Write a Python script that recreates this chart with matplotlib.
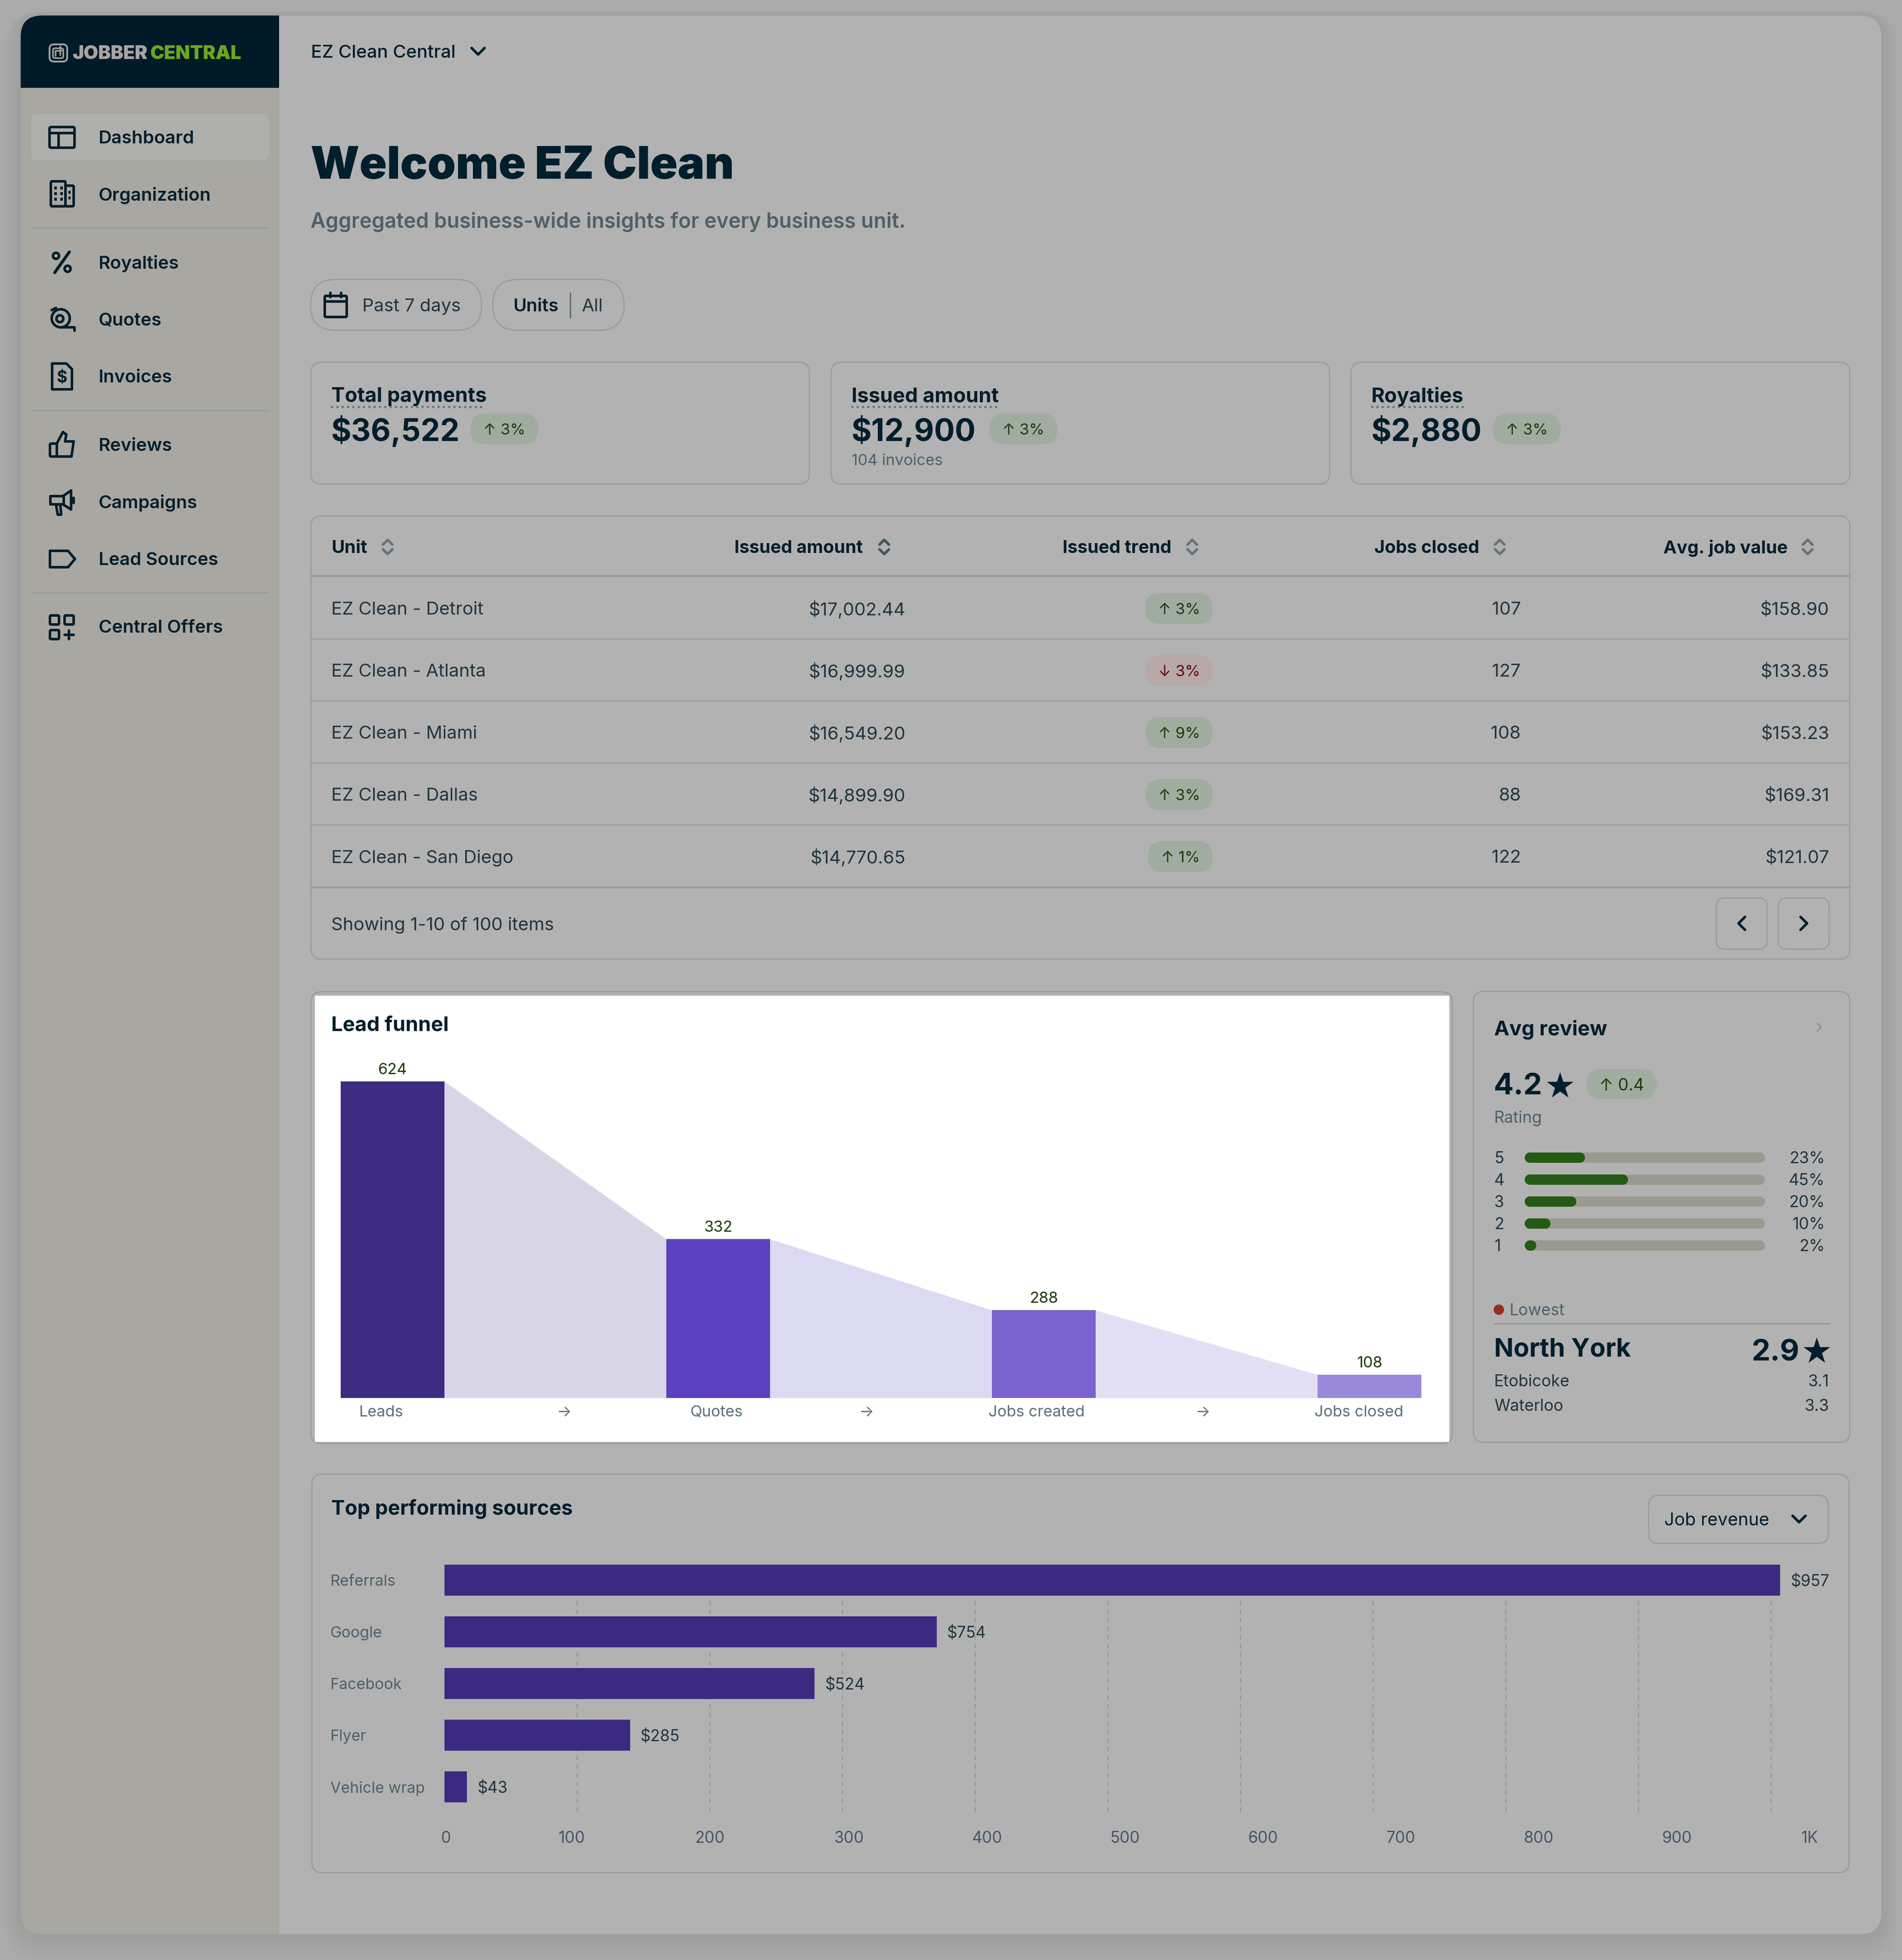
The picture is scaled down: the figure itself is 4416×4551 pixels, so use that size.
import matplotlib
matplotlib.use("Agg")
import matplotlib.pyplot as plt
from matplotlib.patches import FancyBboxPatch, Rectangle, Circle, Polygon

# ---------- data ----------
nav_items = ["Dashboard", "Organization", "Royalties", "Quotes", "Invoices",
             "Reviews", "Campaigns", "Lead Sources", "Central Offers"]
kpi_titles = ["Total payments", "Issued amount", "Royalties"]
kpi_values = ["$36,522", "$12,900", "$2,880"]
kpi_changes = ["3%", "3%", "3%"]

table_headers = ["Unit", "Issued amount", "Issued trend", "Jobs closed", "Avg. job value"]
table_units = ["EZ Clean - Detroit", "EZ Clean - Atlanta", "EZ Clean - Miami",
               "EZ Clean - Dallas", "EZ Clean - San Diego"]
table_issued = ["$17,002.44", "$16,999.99", "$16,549.20", "$14,899.90", "$14,770.65"]
table_trend = ["↑ 3%", "↓ 3%", "↑ 9%", "↑ 3%", "↑ 1%"]
table_jobs = ["107", "127", "108", "88", "122"]
table_avg = ["$158.90", "$133.85", "$153.23", "$169.31", "$121.07"]

funnel_stages = ["Leads", "Quotes", "Jobs created", "Jobs closed"]
funnel_counts = ["624", "332", "288", "108"]
funnel_heights = [624, 313, 173, 46]          # bar heights as drawn in the picture
funnel_colors = ["#3d2b82", "#5b41bf", "#7a63cf", "#9a88da"]
funnel_area_colors = ["#d8d5e6", "#dcd9f2", "#e3e0f6"]
funnel_tick_labels = ["Leads", "→", "Quotes", "→", "Jobs created", "→", "Jobs closed"]
funnel_tick_pos = [-0.035, 0.527, 0.995, 1.455, 1.978, 2.488, 2.968]

rating_levels = ["5", "4", "3", "2", "1"]
rating_labels = ["23%", "45%", "20%", "10%", "2%"]
rating_fill = [25, 43, 21.5, 10.7, 3.8]       # fill lengths as drawn

source_names = ["Referrals", "Google", "Facebook", "Flyer", "Vehicle wrap"]
source_labels = ["$957", "$754", "$524", "$285", "$43"]
source_lengths = [1007, 371, 279, 140, 17]    # bar lengths as drawn against the grid
grid_values = [100, 200, 300, 400, 500, 600, 700, 800, 900, 1000]
source_tick_labels = ["0", "100", "200", "300", "400", "500", "600", "700", "800", "900", "1K"]
source_tick_pos = [1, 96, 200, 305, 409, 513, 617, 721, 825, 929, 1029]

# ---------- style ----------
W, H = 4416, 4551
FONT = ["Inter", "DejaVu Sans"]
DARK = "#011e2c"
BODY = "#22343e"
MUTED = "#4f5f68"
BORDER = "#979da2"
PANEL = "#b2b2b2"
PILL_G, PILL_R = "#a0aca0", "#b9a8a8"
TXT_G, TXT_R = "#1c3a0c", "#5e0a0a"
PURPLE = "#3c2a82"


def css(px):
    return px * 3 * 0.72


def lw(px):
    return px * 0.72


plt.rcParams["font.family"] = FONT
fig = plt.figure(figsize=(W / 100, H / 100), dpi=100, facecolor="#ababab")
ui = fig.add_axes([0, 0, 1, 1], zorder=0)
ui.set_xlim(0, W)
ui.set_ylim(H, 0)
ui.axis("off")


def rr(x0, y0, x1, y1, r=0, fc="none", ec="none", lwd=0, z=1, alpha=None):
    p = FancyBboxPatch((x0, y0), x1 - x0, y1 - y0, boxstyle=f"round,pad=0,rounding_size={r}",
                       fc=fc, ec=ec, lw=lw(lwd), zorder=z, alpha=alpha, mutation_aspect=1)
    ui.add_patch(p)
    return p


def T(x, y, s, size=14, color=BODY, weight="normal", ha="left", z=6, family=None):
    return ui.text(x, y - 1, s, fontsize=css(size), color=color, fontweight=weight, ha=ha,
                   va="center_baseline", zorder=z, family=family or FONT)


def L(xs, ys, color=DARK, w=6, z=5, **kw):
    ui.plot(xs, ys, color=color, lw=lw(w), zorder=z, solid_capstyle="round",
            solid_joinstyle="round", **kw)


def chev(x, y, d, s=14, color=DARK, w=5):
    """d in 'up','down','left','right'"""
    if d == "down":
        L([x - s, x, x + s], [y - s / 2, y + s / 2, y - s / 2], color, w)
    elif d == "up":
        L([x - s, x, x + s], [y + s / 2, y - s / 2, y + s / 2], color, w)
    elif d == "left":
        L([x + s / 2, x - s / 2, x + s / 2], [y - s, y, y + s], color, w)
    else:
        L([x - s / 2, x + s / 2, x - s / 2], [y - s, y, y + s], color, w)


def pill(x0, x1, yc, text, green=True, size=12, h=72):
    rr(x0, yc - h / 2, x1, yc + h / 2, h / 2, fc=PILL_G if green else PILL_R, z=3)
    T((x0 + x1) / 2, yc + 1, text, size, TXT_G if green else TXT_R, ha="center")


def star(x, y, size=27):
    ui.text(x, y, "★", fontsize=css(size), color=DARK, ha="center", va="center_baseline",
            zorder=6, family=["DejaVu Sans"])


# ---------- shell ----------
for k in range(14):
    rr(48 - k * 3, 36 - k * 1, 4368 + k * 3, 4491 + k * 5, 50 + k * 3, fc="#000000", z=0.1, alpha=0.005)
panel = rr(48, 36, 4368, 4491, 50, fc=PANEL, z=0.5)
side = Rectangle((48, 36), 600, 4455, fc="#a8a7a2", zorder=0.6)
ui.add_patch(side)
side.set_clip_path(panel)
head = Rectangle((48, 36), 600, 168, fc="#001a28", zorder=0.7)
ui.add_patch(head)
head.set_clip_path(panel)

# logo
LOGO = "#a7a5a1"
rr(115, 103, 156, 143, 10, ec=LOGO, lwd=4, z=2)
rr(123, 112, 147, 135, 5, ec=LOGO, lwd=3.5, z=2)
L([129, 129, 143], [130, 118, 118], LOGO, 3.5)
L([140, 140], [108, 128], LOGO, 3.5)
T(168, 122, "JOBBER", 14.6, LOGO, "black")
T(349, 122, "CENTRAL", 14.6, "#6aa81c", "black")

# nav
rr(72, 264, 624, 372, 16, fc="#afafad", z=1)
nav_y = [319, 451, 609, 742, 874, 1033, 1165, 1298, 1455]
for name, y in zip(nav_items, nav_y):
    T(229, y, name, 14, DARK, "semibold")
for y in (529, 953, 1376):
    L([72, 624], [y, y], "#989ba0", 3, z=2)

ICON = dict(ec=DARK, lwd=6, z=4)
ix = 144
# dashboard
y = nav_y[0]
rr(ix - 29, y - 24, ix + 29, y + 24, 4, **ICON)
L([ix - 29, ix + 29], [y - 10, y - 10])
L([ix - 8, ix - 8], [y - 10, y + 24])
# organization
y = nav_y[1]
rr(ix - 26, y - 30, ix + 8, y + 28, 3, **ICON)
rr(ix + 8, y - 20, ix + 27, y + 28, 3, **ICON)
for dx in (-16, -2):
    for dy in (-18, -5, 8):
        ui.add_patch(Rectangle((ix + dx - 2, y + dy), 6, 7, fc=DARK, zorder=5))
for dy in (-8, 5):
    ui.add_patch(Rectangle((ix + 15, y + dy), 5, 7, fc=DARK, zorder=5))
# royalties %
y = nav_y[2]
L([ix - 17, ix + 17], [y + 24, y - 24], w=7)
ui.add_patch(Circle((ix - 14, y - 15), 7, fc="none", ec=DARK, lw=lw(6), zorder=5))
ui.add_patch(Circle((ix + 13, y + 15), 7, fc="none", ec=DARK, lw=lw(6), zorder=5))
# quotes
y = nav_y[3]
ui.add_patch(Circle((ix - 3, y - 3), 21, fc="none", ec=DARK, lw=lw(6), zorder=5))
ui.add_patch(Circle((ix - 5, y - 2), 8, fc="none", ec=DARK, lw=lw(6), zorder=5))
L([ix - 3, ix + 29, ix + 29], [y + 18, y + 18, y + 26])
L([ix - 24, ix - 14], [y - 22, y - 27])
# invoices
y = nav_y[4]
ui.add_patch(Polygon([(ix - 23, y - 30), (ix + 10, y - 30), (ix + 23, y - 17), (ix + 23, y + 30), (ix - 23, y + 30)],
                     closed=True, fc="none", ec=DARK, lw=lw(6), zorder=5, joinstyle="round"))
T(ix, y + 1, "$", 12.5, DARK, "bold", ha="center")
# reviews thumb
y = nav_y[5]
ui.add_patch(Polygon([(ix - 12, y - 3), (ix + 2, y - 30), (ix + 10, y - 24), (ix + 7, y - 8), (ix + 27, y - 8),
                      (ix + 22, y + 27), (ix - 12, y + 27)], closed=True, fc="none", ec=DARK, lw=lw(6), zorder=5,
                     joinstyle="round"))
rr(ix - 28, y - 3, ix - 12, y + 27, 3, **ICON)
# campaigns
y = nav_y[6]
ui.add_patch(Polygon([(ix - 27, y - 13), (ix + 2, y - 13), (ix + 21, y - 26), (ix + 21, y + 18), (ix + 2, y + 6),
                      (ix - 27, y + 6)], closed=True, fc="none", ec=DARK, lw=lw(6), zorder=5, joinstyle="round"))
L([ix - 14, ix - 10, ix - 2, ix - 4], [y + 6, y + 30, y + 30, y + 6])
L([ix + 4, ix + 4], [y - 13, y + 6])
L([ix + 27, ix + 27], [y - 9, y + 3])
# lead sources tag
y = nav_y[7]
ui.add_patch(Polygon([(ix - 28, y - 19), (ix + 14, y - 19), (ix + 30, y), (ix + 14, y + 19), (ix - 28, y + 19)],
                     closed=True, fc="none", ec=DARK, lw=lw(6), zorder=5, joinstyle="round"))
# central offers
y = nav_y[8]
for dx, dy in [(-28, -26), (6, -26), (-28, 8)]:
    rr(ix + dx, y + dy, ix + dx + 21, y + dy + 21, 3, **ICON)
L([ix + 16, ix + 16], [y + 9, y + 29])
L([ix + 6, ix + 27], [y + 19, y + 19])

# top bar and title
T(722, 120, "EZ Clean Central", 14, DARK, "medium")
chev(1110, 119, "down", 15, DARK, 6)
T(721, 378, "Welcome EZ Clean", 35, DARK, "black")
T(721, 511, "Aggregated business-wide insights for every business unit.", 15.93, MUTED, "semibold")

# filters
rr(721, 649, 1118, 767, 59, ec=BORDER, lwd=3, z=2)
rr(1144, 649, 1449, 767, 59, ec=BORDER, lwd=3, z=2)
rr(754, 687, 805, 736, 3, **ICON)
L([754, 805], [700, 700])
L([767, 767], [680, 690])
L([792, 792], [680, 690])
T(841, 709, "Past 7 days", 14, BODY)
T(1192, 709, "Units", 14, DARK, "semibold")
L([1324, 1324], [680, 738], "#5a6a72", 3)
T(1351, 709, "All", 14, BODY)

# KPI cards
kx = [(722, 1879), (1930, 3087), (3137, 4295)]
kpi_text_x = [769, 1977, 3184]
kpi_underline = [(771, 1128), (1979, 2323), (3186, 3400)]
kpi_pill = [(1092, 1250), (2297, 2455), (3466, 3624)]
for i in range(3):
    rr(kx[i][0], 841, kx[i][1], 1124, 24, ec=BORDER, lwd=3, z=2)
    T(kpi_text_x[i], 917, kpi_titles[i], 15.8, DARK, "bold")
    ui.plot(kpi_underline[i], [945, 945], color="#6c797f", lw=lw(6),
            dashes=(0.01, 2.05), dash_capstyle="round", zorder=5)
    T(kpi_text_x[i], 996, kpi_values[i], 23.8, DARK, "bold")
    pill(kpi_pill[i][0], kpi_pill[i][1], 996, "↑ " + kpi_changes[i])
T(1977, 1068, "104 invoices", 12, MUTED)

# table
rr(722, 1198, 4295, 2227, 24, ec=BORDER, lwd=3, z=2)
L([722, 4295], [1337, 1337], "#969da3", 5, z=2)
L([722, 4295], [2060, 2060], "#969da3", 5, z=2)
for y in (1483, 1627, 1771, 1915):
    L([722, 4295], [y, y], "#9ca1a5", 3, z=2)


def sort_icon(x, y=1270, c="#67747b"):
    chev(x, y - 11, "up", 11, c, 6)
    chev(x, y + 11, "down", 11, c, 6)


header_right = [None, 2003, 2720, 3435, 4151]
T(769, 1270, table_headers[0], 14, DARK, "bold")
sort_icon(900)
for h, xr, xi in zip(table_headers[1:], header_right[1:], (2053, 2768, 3482, 4197)):
    T(xr, 1270, h, 13.8, DARK, "bold", ha="right")
    sort_icon(xi, c="#44535b" if xi == 2053 else "#67747b")
row_y = [1413, 1557, 1701, 1845, 1989]
for i, y in enumerate(row_y):
    T(769, y, table_units[i], 14, BODY)
    T(2102, y, table_issued[i], 14, BODY, ha="right")
    t = table_trend[i]
    pill(2665 if t.endswith("1%") else 2659, 2816, y, t, green=t[0] == "↑")
    T(3531, y, table_jobs[i], 14, BODY, ha="right")
    T(4247, y, table_avg[i], 14, BODY, ha="right")
T(769, 2145, "Showing 1-10 of 100 items", 14, BODY)
rr(3985, 2085, 4103, 2204, 20, ec=BORDER, lwd=3, z=2)
rr(4129, 2085, 4247, 2204, 20, ec=BORDER, lwd=3, z=2)
chev(4044, 2144, "left", 15, DARK, 6)
chev(4188, 2144, "right", 15, DARK, 6)

# lead funnel card
rr(722, 2303, 3372, 3352, 24, ec=BORDER, lwd=3, fc=PANEL, z=1)
ui.add_patch(Rectangle((731, 2312), 2634, 1036, fc="white", zorder=1.5))
T(769, 2377, "Lead funnel", 15.8, DARK, "bold")


def px_axes(x0, y0, x1, y1):
    a = fig.add_axes([x0 / W, 1 - y1 / H, (x1 - x0) / W, (y1 - y0) / H], zorder=2)
    a.patch.set_visible(False)
    for s in a.spines.values():
        s.set_visible(False)
    return a


bw = 0.3186
fa = px_axes(791, 2511, 3300, 3246)
positions = list(range(len(funnel_stages)))
fa.bar(positions, funnel_heights, width=bw, color=funnel_colors, zorder=3, linewidth=0)
for i in range(len(positions) - 1):
    fa.fill_between([positions[i] + bw / 2, positions[i + 1] - bw / 2],
                    [funnel_heights[i], funnel_heights[i + 1]], 0,
                    color=funnel_area_colors[i], linewidth=0, zorder=2)
for i, c in enumerate(funnel_counts):
    fa.annotate(c, (positions[i], funnel_heights[i]), xytext=(0, 30 * 0.72), textcoords="offset points",
                ha="center", va="center_baseline", fontsize=css(12), color=TXT_G, annotation_clip=False)
fa.set_xticks(funnel_tick_pos, funnel_tick_labels, fontsize=css(12), color="#5e6f78")
fa.set_xlim(-bw / 2, 3 + bw / 2)
fa.set_ylim(0, 624)
fa.set_yticks([])
fa.tick_params(axis="x", length=0, pad=12)

# avg review card
rr(3421, 2302, 4295, 3349, 24, ec=BORDER, lwd=3, z=2)
T(3469, 2387, "Avg review", 15.8, DARK, "bold")
chev(4224, 2385, "right", 9, "#868e93", 3.5)
T(3468, 2517, "4.2", 23, DARK, "bold")
star(3622, 2517)
pill(3684, 3846, 2517, "↑ 0.4", size=13, h=70)
T(3469, 2594, "Rating", 12.5, MUTED)

ra = px_axes(3540, 2663, 4098, 2917)
ra_y = list(range(len(rating_levels)))
cap = 2.15
ra.hlines(ra_y, cap, 100 - cap, color="#9b9a90", lw=lw(24), capstyle="round", zorder=1)
ra.hlines(ra_y, cap, [max(v - cap, cap + 0.5) for v in rating_fill], color="#255a14", lw=lw(24),
          capstyle="round", zorder=2)
ra.set_xlim(0, 100)
ra.set_ylim(4.49, -0.49)
ra.set_xticks([])
ra.set_yticks([])
for lev, lab, y in zip(rating_levels, rating_labels, (2688, 2739, 2790, 2841, 2892)):
    T(3469, y, lev, 12.5, BODY)
    T(4237, y, lab, 12.5, BODY, ha="right")

ui.add_patch(Circle((3480, 3041), 12, fc="#9a2b20", zorder=4))
T(3505, 3041, "Lowest", 12.5, MUTED)
L([3468, 4248], [3073, 3073], "#8e9499", 3, z=2)
T(3469, 3129, "North York", 19.8, DARK, "bold")
T(4178, 3136, "2.9", 23, DARK, "bold", ha="right")
star(4218, 3133)
T(3469, 3206, "Etobicoke", 12.5, BODY)
T(3469, 3263, "Waterloo", 12.5, BODY)
T(4247, 3206, "3.1", 12.5, BODY, ha="right")
T(4247, 3263, "3.3", 12.5, BODY, ha="right")

# top performing sources
rr(724, 3423, 4293, 4348, 24, ec=BORDER, lwd=3, z=2)
T(769, 3500, "Top performing sources", 15.8, DARK, "bold")
rr(3828, 3472, 4245, 3584, 24, ec=BORDER, lwd=3, z=2)
T(3864, 3528, "Job revenue", 13.7, DARK)
chev(4177, 3527, "down", 15, DARK, 6)

sa = px_axes(1032, 3633, 4235, 4215)
ypos = list(range(len(source_names)))
sa.vlines(grid_values, 0.4, 4.55, color="#8f9498", lw=lw(2.5), linestyles=(0, (4, 4)), zorder=1)
sa.barh(ypos, source_lengths, height=0.6, color=PURPLE, zorder=3, linewidth=0)
for i, lab in enumerate(source_labels):
    sa.annotate(lab, (source_lengths[i], i), xytext=(24 * 0.72, 0), textcoords="offset points",
                ha="left", va="center_baseline", fontsize=css(12.3), color=BODY, annotation_clip=False)
sa.set_xticks(source_tick_pos, source_tick_labels, fontsize=css(12.3), color="#475569")
sa.tick_params(axis="x", length=0, pad=26)
sa.set_yticks(ypos, source_names, fontsize=css(11.9), color=MUTED)
sa.tick_params(axis="y", length=0, pad=191)
for t in sa.get_yticklabels():
    t.set_ha("left")
sa.set_xlim(0, 1040)
sa.set_ylim(4.55, -0.3)

fig.savefig("out.png", dpi=100, facecolor=fig.get_facecolor())
